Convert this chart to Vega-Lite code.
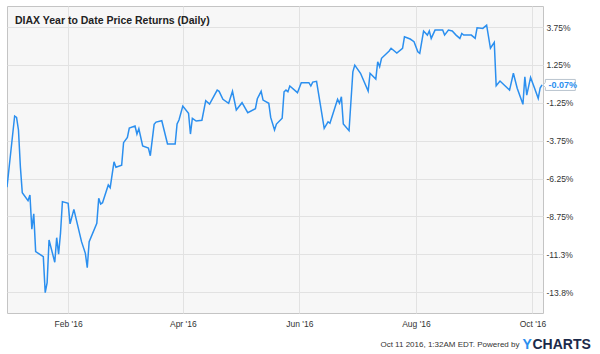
{
  "$schema": "https://vega.github.io/schema/vega-lite/v6.json",
  "autosize": {"type": "none"},
  "width": 536,
  "height": 307,
  "padding": {"left": 7, "top": 6, "right": 57, "bottom": 41},
  "background": "white",
  "title": {
    "text": "DIAX Year to Date Price Returns (Daily)",
    "anchor": "start",
    "frame": "group",
    "orient": "top",
    "baseline": "top",
    "offset": -20,
    "dx": 8,
    "font": "Liberation Sans",
    "fontSize": 10.5,
    "fontWeight": "bold",
    "color": "#222222"
  },
  "config": {
    "view": {"stroke": "#c4c4c4", "fill": "#f7f7f7", "strokeWidth": 1},
    "font": "Liberation Sans"
  },
  "encoding": {
    "x": {
      "field": "date",
      "type": "temporal",
      "scale": {
        "type": "utc",
        "domain": [
          {"year": 2015, "month": 12, "date": 31, "utc": true},
          {"year": 2016, "month": 10, "date": 6, "hours": 12, "utc": true}
        ]
      },
      "axis": {
        "values": [
          {"year": 2016, "month": 2, "date": 1, "utc": true},
          {"year": 2016, "month": 4, "date": 1, "utc": true},
          {"year": 2016, "month": 6, "date": 1, "utc": true},
          {"year": 2016, "month": 8, "date": 1, "utc": true},
          {"year": 2016, "month": 10, "date": 1, "utc": true}
        ],
        "labelExpr": "utcFormat(datum.value, \"%b '%y\")",
        "orient": "bottom",
        "domain": false,
        "ticks": false,
        "labelPadding": 6,
        "labelFontSize": 8.5,
        "labelColor": "#333333",
        "labelFont": "Liberation Sans",
        "grid": true,
        "gridColor": "#e2e2e2",
        "title": "Oct 11 2016, 1:32AM EDT.  Powered by",
        "titleX": 512,
        "titleY": 33,
        "titleAlign": "right",
        "titleBaseline": "alphabetic",
        "titleFontSize": 8,
        "titleFontWeight": "normal",
        "titleColor": "#333333",
        "titleFont": "Liberation Sans"
      }
    }
  },
  "layer": [
    {
      "data": {
        "values": [
          {"date": "2015-12-31", "value": -6.82},
          {"date": "2016-01-04", "value": -2.12},
          {"date": "2016-01-05", "value": -2.21},
          {"date": "2016-01-06", "value": -3.04},
          {"date": "2016-01-07", "value": -5.47},
          {"date": "2016-01-08", "value": -7.18},
          {"date": "2016-01-11", "value": -7.71},
          {"date": "2016-01-12", "value": -7.33},
          {"date": "2016-01-13", "value": -9.59},
          {"date": "2016-01-14", "value": -8.58},
          {"date": "2016-01-15", "value": -11.07},
          {"date": "2016-01-19", "value": -11.40},
          {"date": "2016-01-20", "value": -13.78},
          {"date": "2016-01-21", "value": -13.12},
          {"date": "2016-01-22", "value": -10.30},
          {"date": "2016-01-25", "value": -11.77},
          {"date": "2016-01-26", "value": -10.15},
          {"date": "2016-01-27", "value": -11.24},
          {"date": "2016-01-28", "value": -9.86},
          {"date": "2016-01-29", "value": -7.77},
          {"date": "2016-02-01", "value": -7.88},
          {"date": "2016-02-02", "value": -9.24},
          {"date": "2016-02-04", "value": -8.28},
          {"date": "2016-02-08", "value": -10.41},
          {"date": "2016-02-10", "value": -11.18},
          {"date": "2016-02-11", "value": -12.13},
          {"date": "2016-02-12", "value": -10.41},
          {"date": "2016-02-16", "value": -9.20},
          {"date": "2016-02-17", "value": -7.55},
          {"date": "2016-02-18", "value": -7.93},
          {"date": "2016-02-19", "value": -7.84},
          {"date": "2016-02-22", "value": -6.67},
          {"date": "2016-02-23", "value": -6.85},
          {"date": "2016-02-25", "value": -5.14},
          {"date": "2016-02-26", "value": -5.50},
          {"date": "2016-02-29", "value": -5.37},
          {"date": "2016-03-01", "value": -3.88},
          {"date": "2016-03-03", "value": -3.53},
          {"date": "2016-03-04", "value": -2.91},
          {"date": "2016-03-07", "value": -2.78},
          {"date": "2016-03-08", "value": -3.31},
          {"date": "2016-03-09", "value": -2.96},
          {"date": "2016-03-11", "value": -4.10},
          {"date": "2016-03-14", "value": -4.23},
          {"date": "2016-03-15", "value": -4.74},
          {"date": "2016-03-17", "value": -2.67},
          {"date": "2016-03-18", "value": -2.52},
          {"date": "2016-03-21", "value": -2.43},
          {"date": "2016-03-24", "value": -3.97},
          {"date": "2016-03-28", "value": -3.97},
          {"date": "2016-03-29", "value": -2.65},
          {"date": "2016-03-30", "value": -2.38},
          {"date": "2016-04-01", "value": -1.46},
          {"date": "2016-04-04", "value": -1.94},
          {"date": "2016-04-05", "value": -3.31},
          {"date": "2016-04-06", "value": -2.27},
          {"date": "2016-04-08", "value": -2.45},
          {"date": "2016-04-11", "value": -2.40},
          {"date": "2016-04-13", "value": -1.11},
          {"date": "2016-04-15", "value": -1.33},
          {"date": "2016-04-19", "value": -0.41},
          {"date": "2016-04-20", "value": -0.49},
          {"date": "2016-04-22", "value": -1.02},
          {"date": "2016-04-25", "value": -1.28},
          {"date": "2016-04-27", "value": -0.49},
          {"date": "2016-04-29", "value": -1.72},
          {"date": "2016-05-02", "value": -1.24},
          {"date": "2016-05-05", "value": -1.90},
          {"date": "2016-05-09", "value": -1.64},
          {"date": "2016-05-10", "value": -0.98},
          {"date": "2016-05-12", "value": -0.49},
          {"date": "2016-05-13", "value": -1.07},
          {"date": "2016-05-16", "value": -1.28},
          {"date": "2016-05-17", "value": -2.21},
          {"date": "2016-05-19", "value": -3.04},
          {"date": "2016-05-20", "value": -2.65},
          {"date": "2016-05-23", "value": -2.27},
          {"date": "2016-05-24", "value": -0.52},
          {"date": "2016-05-25", "value": -0.41},
          {"date": "2016-05-26", "value": -0.52},
          {"date": "2016-05-27", "value": -0.14},
          {"date": "2016-05-31", "value": -0.58},
          {"date": "2016-06-02", "value": 0.08},
          {"date": "2016-06-06", "value": 0.08},
          {"date": "2016-06-07", "value": -0.14},
          {"date": "2016-06-08", "value": 0.12},
          {"date": "2016-06-10", "value": 0.17},
          {"date": "2016-06-14", "value": -2.93},
          {"date": "2016-06-16", "value": -2.50},
          {"date": "2016-06-17", "value": -2.60},
          {"date": "2016-06-21", "value": -1.02},
          {"date": "2016-06-22", "value": -1.28},
          {"date": "2016-06-23", "value": -0.85},
          {"date": "2016-06-24", "value": -2.65},
          {"date": "2016-06-27", "value": -3.09},
          {"date": "2016-06-29", "value": 0.80},
          {"date": "2016-06-30", "value": 1.24},
          {"date": "2016-07-03", "value": 0.70},
          {"date": "2016-07-07", "value": -0.47},
          {"date": "2016-07-08", "value": 0.70},
          {"date": "2016-07-11", "value": 0.32},
          {"date": "2016-07-12", "value": 1.46},
          {"date": "2016-07-13", "value": 1.13},
          {"date": "2016-07-14", "value": 1.69},
          {"date": "2016-07-18", "value": 2.17},
          {"date": "2016-07-19", "value": 2.35},
          {"date": "2016-07-22", "value": 2.04},
          {"date": "2016-07-25", "value": 2.35},
          {"date": "2016-07-26", "value": 3.11},
          {"date": "2016-07-29", "value": 2.96},
          {"date": "2016-07-31", "value": 2.78},
          {"date": "2016-08-02", "value": 2.12},
          {"date": "2016-08-03", "value": 2.02},
          {"date": "2016-08-05", "value": 3.49},
          {"date": "2016-08-07", "value": 3.22},
          {"date": "2016-08-08", "value": 3.49},
          {"date": "2016-08-09", "value": 3.00},
          {"date": "2016-08-11", "value": 3.55},
          {"date": "2016-08-15", "value": 3.55},
          {"date": "2016-08-16", "value": 3.22},
          {"date": "2016-08-18", "value": 3.55},
          {"date": "2016-08-20", "value": 3.49},
          {"date": "2016-08-22", "value": 3.22},
          {"date": "2016-08-24", "value": 3.00},
          {"date": "2016-08-25", "value": 3.33},
          {"date": "2016-08-26", "value": 3.22},
          {"date": "2016-08-30", "value": 3.22},
          {"date": "2016-09-01", "value": 3.00},
          {"date": "2016-09-02", "value": 3.70},
          {"date": "2016-09-05", "value": 3.66},
          {"date": "2016-09-07", "value": 3.88},
          {"date": "2016-09-09", "value": 2.35},
          {"date": "2016-09-11", "value": 2.74},
          {"date": "2016-09-12", "value": -0.12},
          {"date": "2016-09-14", "value": 0.19},
          {"date": "2016-09-19", "value": -0.41},
          {"date": "2016-09-21", "value": 0.70},
          {"date": "2016-09-23", "value": -0.29},
          {"date": "2016-09-26", "value": -1.35},
          {"date": "2016-09-27", "value": 0.47},
          {"date": "2016-09-28", "value": -0.74},
          {"date": "2016-09-30", "value": 0.43},
          {"date": "2016-10-02", "value": -0.25},
          {"date": "2016-10-04", "value": -0.95},
          {"date": "2016-10-05", "value": -0.27},
          {"date": "2016-10-06", "value": -0.07}
        ]
      },
      "mark": {"type": "line", "color": "#2b8fef", "strokeWidth": 1.5, "clip": true, "interpolate": "linear"},
      "encoding": {
        "y": {
          "field": "value",
          "type": "quantitative",
          "scale": {"domain": [-15.12, 5.14], "nice": false, "zero": false},
          "axis": {
            "orient": "right",
            "values": [3.75, 1.25, -1.25, -3.75, -6.25, -8.75, -11.25, -13.75],
            "labelExpr": "replace(format(datum.value, '.3r'), '\u2212', '-') + '%'",
            "domain": false,
            "ticks": false,
            "labelPadding": 3,
            "labelFontSize": 8.5,
            "labelColor": "#333333",
            "labelFont": "Liberation Sans",
            "labelAlign": "left",
            "grid": true,
            "gridColor": "#e2e2e2",
            "title": "CHARTS",
            "titleAngle": 0,
            "titleX": -11,
            "titleY": 342,
            "titleAlign": "left",
            "titleBaseline": "alphabetic",
            "titleFontSize": 14,
            "titleFontWeight": "bold",
            "titleColor": "#1b2a4a",
            "titleFont": "Liberation Sans"
          }
        }
      }
    },
    {
      "data": {"values": [{"date": "2016-10-06", "value": -0.07, "label": "-0.07%"}]},
      "encoding": {
        "y": {
          "field": "value",
          "type": "quantitative",
          "scale": {"domain": [-15.12, 5.14], "nice": false, "zero": false},
          "axis": {
            "orient": "left",
            "labels": false,
            "ticks": false,
            "domain": false,
            "grid": false,
            "title": "Y",
            "titleAngle": 0,
            "titleX": 515,
            "titleY": 342,
            "titleAlign": "left",
            "titleBaseline": "alphabetic",
            "titleFontSize": 14,
            "titleFontWeight": "bold",
            "titleColor": "#2b8fef",
            "titleFont": "Liberation Sans"
          }
        }
      },
      "layer": [
        {
          "mark": {
            "type": "point",
            "shape": "M0.15,0 L0.6,-0.45 L0.6,-1 L6.05,-1 L6.05,1 L0.6,1 L0.6,0.45 Z",
            "size": 121,
            "filled": true,
            "fill": "white",
            "stroke": "#b9c4cf",
            "strokeWidth": 1,
            "opacity": 1
          }
        },
        {
          "mark": {
            "type": "text",
            "align": "left",
            "baseline": "middle",
            "dx": 6.5,
            "dy": 0.5,
            "font": "Liberation Sans",
            "fontSize": 9,
            "fontWeight": "bold",
            "color": "#2b8fef"
          },
          "encoding": {"text": {"field": "label"}}
        }
      ]
    }
  ],
  "resolve": {"axis": {"y": "independent"}}
}
